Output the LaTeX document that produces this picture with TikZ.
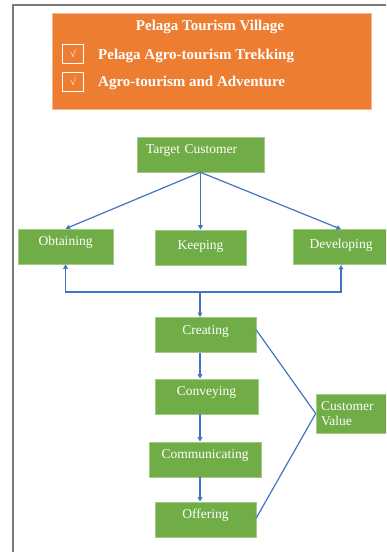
\documentclass[tikz,border=0pt]{standalone}
\usepackage{fontspec}
\setmainfont{Liberation Serif}
\usetikzlibrary{arrows.meta}
\definecolor{stagegreen}{HTML}{70AD47}
\definecolor{headorange}{HTML}{ED7D31}
\definecolor{linkblue}{HTML}{4472C4}
\begin{document}
\begin{tikzpicture}[x=1pt,y=-1pt,
  block/.style={draw=stagegreen!65!white,line width=0.6pt,fill=stagegreen,text=white,
    minimum height=35pt,inner sep=2pt,font=\fontsize{13.5}{16}\selectfont},
  stage/.style={block,text height=9pt,text depth=11pt},
  headtext/.style={text=white,inner sep=0pt,font=\fontsize{15}{17}\selectfont\bfseries},
  tickbox/.style={draw=white,line width=0.8pt,minimum width=21pt,minimum height=19pt,
    inner sep=0pt,text=white,font=\fontsize{10}{10}\selectfont},
  link/.style={linkblue,line width=1.2pt},
  flow/.style={link,-{Triangle[length=4.5pt,width=4.5pt]}}]
\useasboundingbox (0,0) rectangle (386,552);
\clip (0,0) rectangle (386,552);

% Page frame
\draw[gray!95!black,line width=2pt] (12.5,552) -- (12.5,5) -- (386,5);

% Header
\node[fill=headorange,draw=headorange!55!white,line width=0.8pt,minimum width=319pt,minimum height=96pt] (header) at (211.5,61) {};
\node[headtext] (title) at (210,27) {Pelaga Tourism Village};
\node[tickbox] (tick1) at (73,54) {√};
\node[tickbox] (tick2) at (73,82) {√};
\node[headtext,anchor=west] (item1) at (98,56) {Pelaga Agro-tourism Trekking};
\node[headtext,anchor=west] (item2) at (98,83) {Agro-tourism and Adventure};

% Customer management
\node[stage,minimum width=127pt,text width=109pt,align=left] (target) at (200.5,154.5) {Target Customer};
\node[stage,minimum width=95pt] (obtaining) at (65.5,246.5) {Obtaining};
\node[stage,minimum width=91pt,text depth=6pt] (keeping) at (200.5,247.5) {Keeping};
\node[stage,minimum width=96pt,text depth=6pt] (developing) at (341,247) {Developing};

\draw[flow] (target.south) -- (obtaining.north);
\draw[flow] (target.south) -- (keeping.north);
\draw[flow] (target.south) -- (developing.north);

% Value chain
\coordinate (split) at (200,292);
\node[stage,minimum width=101pt] (creating) at (205.5,335) {Creating};
\node[stage,minimum width=103pt] (conveying) at (206.5,396.5) {Conveying};
\node[stage,minimum width=112pt] (communicating) at (205,459.5) {Communicating};
\node[stage,minimum width=101pt] (offering) at (205.5,519.5) {Offering};
\node[block,minimum width=76pt,minimum height=39pt,text width=66pt,align=left] (value) at (354,413.5) {Customer\\[-1pt]Value};

\draw[flow] (split) -| (obtaining.south);
\draw[flow] (split) -| (developing.south);
\draw[flow] (split) -- (creating.north -| split);
\draw[flow] (creating.south -| split) -- (conveying.north -| split);
\draw[flow] (conveying.south -| split) -- (communicating.north -| split);
\draw[flow] (communicating.south -| split) -- (offering.north -| split);

% Links to customer value
\draw[link] ([yshift=5pt]creating.east) -- (value.west);
\draw[link] ([yshift=1.5pt]offering.east) -- (value.west);
\end{tikzpicture}
\end{document}
